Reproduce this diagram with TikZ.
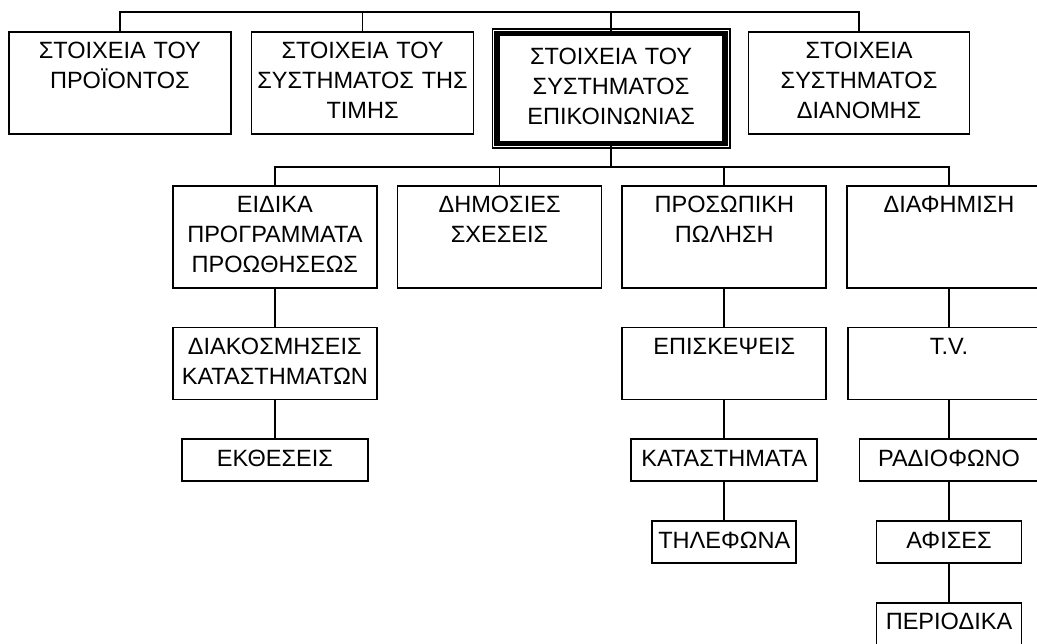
\documentclass[tikz,border=0pt]{standalone}
\usepackage{fontspec}
\setmainfont{Liberation Sans}
\usetikzlibrary{positioning}

\begin{document}
\begin{tikzpicture}[
  x=0.02cm, y=-0.02cm,
  node distance=0.76cm and 0.38cm,
  box/.style={rectangle, draw, line width=1pt, align=center, inner xsep=0pt, inner ysep=0.12cm, font=\fontsize{13.4}{17.07}\selectfont, execute at begin node=\strut, execute at end node=\strut},
  mainbox/.style={box, line width=3pt, inner ysep=0.2cm},
  link/.style={line width=1pt}
]
  \useasboundingbox (0,0) rectangle (1037,643);

  % top row
  \node[box, text width=4.44cm, anchor=north west] (prod) at (8,31) {ΣΤΟΙΧΕΙΑ ΤΟΥ\\ΠΡΟΪΟΝΤΟΣ\\};
  \node[box, text width=4.44cm, right=0.38cm of prod.north east, anchor=north west] (price) {ΣΤΟΙΧΕΙΑ ΤΟΥ\\ΣΥΣΤΗΜΑΤΟΣ ΤΗΣ\\ΤΙΜΗΣ};
  \node[mainbox, text width=4.56cm, right=0.4cm of price.north east, anchor=north west] (comm) {ΣΤΟΙΧΕΙΑ ΤΟΥ\\ΣΥΣΤΗΜΑΤΟΣ\\ΕΠΙΚΟΙΝΩΝΙΑΣ};
  \node[box, text width=4.42cm, right=0.4cm of comm.north east, anchor=north west] (dist) {ΣΤΟΙΧΕΙΑ\\ΣΥΣΤΗΜΑΤΟΣ\\ΔΙΑΝΟΜΗΣ};
  \draw[link] ([shift={(-2,-2)}]comm.north west) rectangle ([shift={(2,2)}]comm.south east);

  % second row
  \node[box, text width=4.08cm, anchor=north west] (promo) at (172,185) {ΕΙΔΙΚΑ\\ΠΡΟΓΡΑΜΜΑΤΑ\\ΠΡΟΩΘΗΣΕΩΣ};
  \node[box, text width=4.08cm, right=of promo] (pr) {ΔΗΜΟΣΙΕΣ\\ΣΧΕΣΕΙΣ\\};
  \node[box, text width=4.08cm, right=of pr] (sell) {ΠΡΟΣΩΠΙΚΗ\\ΠΩΛΗΣΗ\\};
  \node[box, text width=4.08cm, right=of sell] (advert) {ΔΙΑΦΗΜΙΣΗ\\~\\};

  % lower chains
  \node[box, text width=4.08cm, below=of promo] (decor) {ΔΙΑΚΟΣΜΗΣΕΙΣ\\ΚΑΤΑΣΤΗΜΑΤΩΝ};
  \node[box, text width=3.72cm, below=of decor] (expo) {ΕΚΘΕΣΕΙΣ};
  \node[box, text width=4.08cm, below=of sell] (visit) {ΕΠΙΣΚΕΨΕΙΣ\\};
  \node[box, text width=3.72cm, below=of visit] (shops) {ΚΑΤΑΣΤΗΜΑΤΑ};
  \node[box, text width=2.88cm, below=of shops] (phone) {ΤΗΛΕΦΩΝΑ};
  \node[box, text width=4.04cm, below=of advert] (tv) {T.V.\\};
  \node[box, text width=3.58cm, below=of tv] (radio) {ΡΑΔΙΟΦΩΝΟ};
  \node[box, text width=2.9cm, below=of radio] (poster) {ΑΦΙΣΕΣ};
  \node[box, text width=2.9cm, below=of poster] (mag) {ΠΕΡΙΟΔΙΚΑ};

  \coordinate (topbus) at (0,12);
  \coordinate (midbus) at (0,167);

  \draw[link] (prod.north) |- (dist.north |- topbus) -- (dist.north);
  \draw[link] (price.north) -- (price.north |- topbus);
  \draw[link] (comm.north) -- (comm.north |- topbus);

  \draw[link] (comm.south) -- (comm.south |- midbus);
  \draw[link] (promo.north) |- (advert.north |- midbus) -- (advert.north);
  \draw[link] (pr.north) -- (pr.north |- midbus);
  \draw[link] (sell.north) -- (sell.north |- midbus);

  \draw[link] (promo) -- (decor) -- (expo);
  \draw[link] (sell) -- (visit) -- (shops) -- (phone);
  \draw[link] (advert) -- (tv) -- (radio) -- (poster) -- (mag);
\end{tikzpicture}
\end{document}
